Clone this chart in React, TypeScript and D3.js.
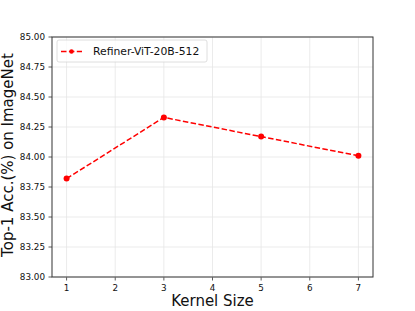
import * as d3 from "d3";

const kernelSizes = [1, 3, 5, 7];
const accuracy = [83.82, 84.33, 84.17, 84.01];
const xTicks = [1, 2, 3, 4, 5, 6, 7];
const yTicks = [83.0, 83.25, 83.5, 83.75, 84.0, 84.25, 84.5, 84.75, 85.0];
const seriesName = "Refiner-ViT-20B-512";

const width = 415;
const height = 311;
const margin = { top: 37, right: 42, bottom: 34, left: 52 };
const innerWidth = width - margin.left - margin.right;
const innerHeight = height - margin.top - margin.bottom;
const font = "DejaVu Sans, sans-serif";

export default function App() {
  const x = d3.scaleLinear().domain([0.7, 7.3]).range([0, innerWidth]);
  const y = d3.scaleLinear().domain([83, 85]).range([innerHeight, 0]);
  const points = kernelSizes.map((k, i) => ({ k, v: accuracy[i] }));
  const line = d3
    .line<{ k: number; v: number }>()
    .x((d) => x(d.k))
    .y((d) => y(d.v));

  return (
    <svg width={width} height={height} style={{ position: "absolute", left: 0, top: 0 }} fontFamily={font}>
      <rect width={width} height={height} fill="#fff" />
      <g transform={`translate(${margin.left},${margin.top})`}>
        {xTicks.map((t) => (
          <g key={`x-${t}`} transform={`translate(${x(t)},0)`}>
            <line y1={0} y2={innerHeight} stroke="#e6e6e6" strokeWidth={0.8} />
            <line y1={innerHeight} y2={innerHeight + 3.5} stroke="#333" strokeWidth={0.8} />
            <text y={innerHeight + 14} textAnchor="middle" fontSize={8.8} fill="#111">
              {t}
            </text>
          </g>
        ))}
        {yTicks.map((t) => (
          <g key={`y-${t}`} transform={`translate(0,${y(t)})`}>
            <line x1={0} x2={innerWidth} stroke="#e6e6e6" strokeWidth={0.8} />
            <line x1={-3.5} x2={0} stroke="#333" strokeWidth={0.8} />
            <text x={-7} dy="0.35em" textAnchor="end" fontSize={8.8} fill="#111">
              {d3.format(".2f")(t)}
            </text>
          </g>
        ))}
        <path d={line(points) ?? ""} fill="none" stroke="#ff0000" strokeWidth={1.5} strokeDasharray="5.5,2.4" />
        {points.map((d) => (
          <circle key={d.k} cx={x(d.k)} cy={y(d.v)} r={3} fill="#ff0000" />
        ))}
        <rect x={0} y={0} width={innerWidth} height={innerHeight} fill="none" stroke="#333" strokeWidth={1} />

        <g transform="translate(5,3)">
          <rect x={0} y={0} width={150} height={22} rx={2} fill="#fff" fillOpacity={0.8} stroke="#d6d6d6" strokeWidth={0.8} />
          <line x1={4} x2={25} y1={11.5} y2={11.5} stroke="#ff0000" strokeWidth={1.5} strokeDasharray="5.5,2.4" />
          <circle cx={14.5} cy={11.5} r={2.2} fill="#ff0000" />
          <text x={36} y={11.5} dy="0.35em" fontSize={10.8} fill="#111">
            {seriesName}
          </text>
        </g>

        <text x={innerWidth / 2} y={innerHeight + 29} textAnchor="middle" fontSize={15} fill="#111">
          Kernel Size
        </text>
        <text
          transform={`translate(${-39},${innerHeight / 2 - 2}) rotate(-90)`}
          textAnchor="middle"
          fontSize={15}
          fill="#111"
        >
          Top-1 Acc.(%) on ImageNet
        </text>
      </g>
    </svg>
  );
}
